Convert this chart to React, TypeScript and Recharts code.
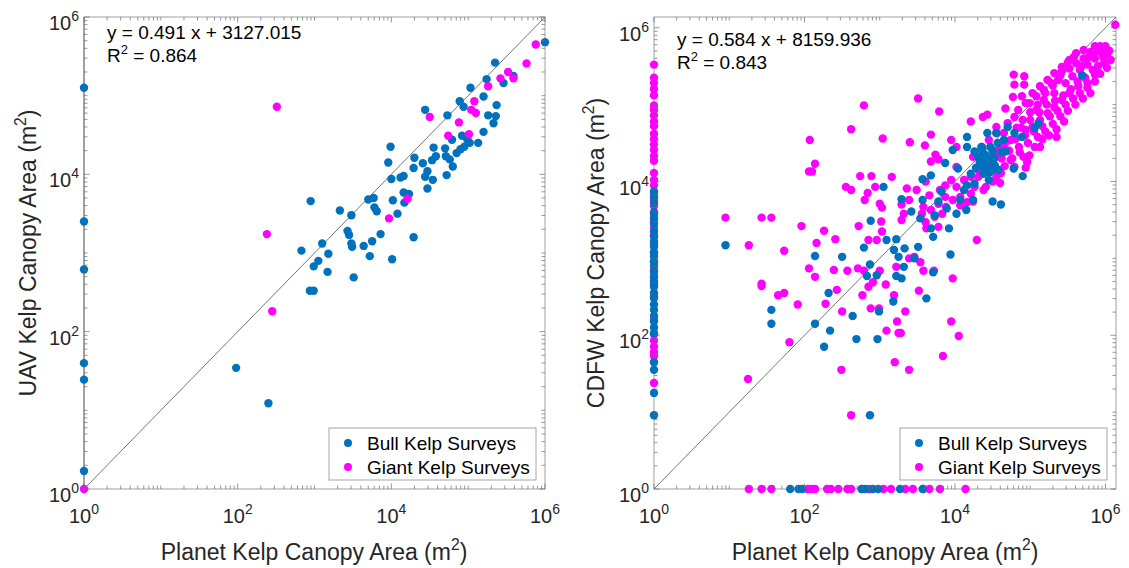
import React from 'react';
import { ScatterChart, Scatter, XAxis, YAxis } from 'recharts';

const FONT = '"Liberation Sans", Arial, Helvetica, sans-serif';
const TEXT = '#262626';
const BLUE = '#0072BD';
const MAGENTA = '#FF00FF';

type P = [number, number];

// ---------- Tick definitions (log axes) ----------
const decadeExponents = [0, 1, 2, 3, 4, 5, 6];
const labeledExponents = [0, 2, 4, 6];
const minorMultipliers = [2, 3, 4, 5, 6, 7, 8, 9];
const logTicks: number[] = decadeExponents.flatMap((e) =>
  e < 6 ? [Math.pow(10, e), ...minorMultipliers.map((m) => m * Math.pow(10, e))] : [Math.pow(10, e)]
);

// ---------- Left panel: UAV vs Planet (values given as log10 of area, m^2) ----------
const uavDomainMax = 1e6;
const uavBullLog: P[] = [
  [0, 5.1], [0, 3.4], [0, 2.79], [0, 1.6], [0, 1.39], [0, 0.23],
  [1.98, 1.54], [2.4, 1.09], [2.94, 2.52], [2.99, 2.52],
  [6.0, 5.68], [5.35, 5.42], [5.24, 5.21], [5.46, 5.16], [5.59, 5.25], [5.03, 5.1],
  [4.89, 4.93], [4.94, 4.86], [5.2, 4.99], [5.37, 4.88], [5.26, 4.75], [5.36, 4.74],
  [5.33, 4.65], [5.2, 4.54], [5.13, 4.4], [4.92, 4.49], [4.99, 4.44], [5.02, 4.4],
  [4.95, 4.35], [4.9, 4.32], [4.85, 4.27], [4.79, 4.44], [4.76, 4.19], [4.71, 4.23],
  [4.8, 4.1], [4.7, 4.33], [4.72, 3.99], [4.73, 4.75], [4.44, 4.82], [4.55, 4.34],
  [4.58, 4.23], [4.53, 4.18], [4.41, 4.14], [4.3, 4.21], [4.29, 4.08], [4.47, 4.04],
  [4.44, 3.97], [4.54, 3.93], [4.47, 3.82], [4.29, 3.2], [3.99, 4.35], [3.96, 4.15],
  [4.0, 3.94], [4.12, 3.96], [4.16, 3.98], [4.16, 3.77], [4.23, 3.75], [4.17, 3.64],
  [4.02, 3.67], [4.08, 3.5], [4.01, 2.92], [3.86, 3.24], [3.75, 3.15], [3.72, 2.96],
  [3.64, 3.09], [3.77, 3.7], [3.7, 3.68], [3.78, 3.58], [3.81, 3.53], [3.48, 3.48],
  [3.33, 3.54], [3.43, 3.28], [3.45, 3.23], [3.48, 3.12], [3.49, 3.08], [3.51, 2.69],
  [2.95, 3.66], [2.83, 3.03], [3.1, 3.12], [3.05, 2.9], [3.18, 2.99], [2.99, 2.83],
  [3.17, 2.76],
];
const uavGiantLog: P[] = [
  [0, 0], [2.51, 4.86], [2.38, 3.24], [2.45, 2.26], [3.97, 3.44], [4.21, 3.69],
  [4.5, 4.73], [4.74, 4.49], [4.88, 4.66], [5.01, 4.51], [5.04, 4.82], [5.1, 4.78],
  [5.08, 4.93], [5.26, 5.12], [5.42, 5.22], [5.52, 5.3], [5.59, 5.22], [5.76, 5.41],
  [5.88, 5.65],
];

// ---------- Right panel: CDFW vs Planet (log10 of area, m^2) ----------
const cdfwDomainMax = 1.38e6;
// points sitting on the x = 1 axis (log10 y values)
const cdfwGiantOnYAxis = [
  5.52, 5.35, 5.28, 5.2, 5.12, 4.99, 4.93, 4.86, 4.78, 4.72, 4.62, 4.55, 4.48, 4.41,
  4.33, 4.27, 4.11, 4.02, 3.95, 3.85, 3.76, 3.68, 3.57, 3.48, 3.4, 3.3, 3.18, 3.07,
  2.95, 2.85, 2.75, 2.66, 2.5, 2.2, 2.01, 1.93, 1.85, 1.78, 1.73, 1.38,
];
const cdfwBullOnYAxis = [
  3.87, 3.8, 3.72, 3.6, 3.52, 3.45, 3.35, 3.28, 3.22, 3.15, 3.08, 3.02, 2.96, 2.9,
  2.83, 2.77, 2.7, 2.63, 2.55, 2.48, 2.4, 2.33, 2.25, 2.18, 2.1, 2.03, 1.65, 1.55,
  1.25, 0.96,
];
// points sitting on the y = 1 axis (log10 x values)
const cdfwGiantOnXAxis = [
  1.26, 1.43, 1.56, 2.04, 2.09, 2.14, 2.3, 2.35, 2.45, 2.57, 2.62, 2.76, 2.86, 3.05,
  3.15, 3.34, 3.44, 3.58, 3.66, 3.8, 4.14,
];
const cdfwBullOnXAxis = [1.81, 1.92, 1.97, 2.76, 2.81, 2.91, 2.98, 3.27, 3.57];

const cdfwGiantLog: P[] = [
  [1.43, 2.64], [1.65, 2.52], [1.73, 2.55], [1.91, 2.4], [1.8, 1.91], [1.25, 1.43],
  [2.28, 2.41], [2.43, 2.59], [2.5, 2.31], [2.49, 1.55], [2.62, 0.96], [2.77, 2.52],
  [2.85, 2.63], [2.88, 2.35], [2.99, 2.35], [3.08, 2.66], [3.19, 2.52], [3.34, 2.31],
  [3.23, 2.18], [3.25, 2.03], [3.28, 2.03], [3.09, 2.06], [3.2, 1.65], [3.39, 1.55],
  [3.52, 2.58], [3.84, 1.73], [3.95, 2.18], [4.05, 1.99],
  [0.95, 3.53], [1.26, 3.17], [1.43, 3.53], [1.56, 3.53], [1.73, 3.1], [1.96, 3.42],
  [2.07, 4.54], [2.14, 4.23], [2.06, 4.13], [2.1, 4.13], [2.16, 3.2], [2.26, 3.36],
  [2.41, 3.25], [2.14, 2.76], [2.39, 2.85], [2.55, 3.93], [2.62, 3.89], [2.62, 4.68],
  [2.72, 3.42], [2.74, 4.07], [2.79, 4.99], [2.8, 3.76], [2.84, 3.85], [2.89, 4.07],
  [2.94, 3.93], [3.0, 3.71], [3.03, 3.66], [3.02, 3.48], [3.03, 3.35], [3.04, 4.56],
  [3.16, 4.06], [3.36, 3.91], [3.29, 3.7], [3.32, 3.58], [3.4, 4.51], [3.51, 5.08],
  [3.6, 4.47], [3.68, 4.61], [3.79, 4.91], [3.74, 4.35], [3.78, 4.29], [3.95, 4.54],
  [4.02, 4.45], [3.68, 4.26], [3.61, 4.0], [3.62, 3.39], [3.97, 2.74], [3.58, 2.84],
  [4.29, 3.24], [4.21, 4.78], [4.37, 4.84], [4.43, 4.87], [4.78, 5.39], [4.92, 5.37],
  [4.79, 5.26], [4.92, 5.26], [4.77, 5.1], [4.89, 5.11], [4.67, 4.95], [5.35, 4.58],
  [5.13, 4.45], [4.99, 4.34], [4.91, 4.32], [4.94, 4.18], [4.79, 4.19], [4.74, 4.28],
  [4.61, 4.11], [4.6, 3.98], [4.5, 4.0], [4.38, 3.89], [4.16, 3.73], [4.24, 3.74],
  [4.07, 3.69], [3.88, 3.67], [3.73, 3.54], [3.78, 3.41], [3.66, 3.82], [3.8, 3.89],
  [3.87, 3.95], [3.95, 4.02], [4.02, 3.93], [4.12, 4.02], [4.21, 4.06], [4.31, 4.15],
  [4.24, 4.32], [4.36, 4.45], [4.45, 4.54], [4.55, 4.63], [4.65, 4.63], [4.55, 4.71],
  [4.7, 4.76], [4.79, 4.84], [4.84, 4.93], [4.99, 5.02], [5.08, 5.11], [5.18, 5.19],
  [5.28, 5.28], [5.37, 5.32], [5.42, 5.43], [5.52, 5.47], [5.61, 5.54], [5.71, 5.6],
  [5.81, 5.69], [5.86, 5.76], [5.93, 5.76], [6.0, 5.76], [6.02, 5.65], [5.98, 5.54],
  [5.86, 5.39], [5.76, 5.28], [5.64, 5.24], [5.52, 5.15], [5.42, 5.06], [5.32, 4.97],
  [5.23, 4.89], [5.13, 4.8], [5.03, 4.71], [4.94, 4.67], [5.18, 5.06], [5.08, 4.93],
  [5.32, 5.15], [5.47, 5.28], [5.56, 5.37], [5.66, 5.45], [5.76, 5.52], [5.86, 5.6],
  [5.95, 5.67], [5.71, 5.71], [5.61, 5.67], [5.52, 5.58], [5.42, 5.49], [5.32, 5.41],
  [5.23, 5.32], [5.13, 5.24], [5.03, 5.15], [4.94, 5.02], [6.13, 6.04], [5.87, 5.4],
  [4.74, 4.54], [4.65, 4.45], [4.55, 4.37], [4.5, 4.24], [4.41, 4.15], [4.31, 4.06],
  [4.26, 3.93], [4.41, 3.93], [4.55, 4.06], [3.87, 3.8], [3.97, 3.76], [4.07, 3.8],
  [4.21, 3.84], [3.78, 3.71], [3.83, 3.58], [3.58, 3.67], [3.68, 3.63], [3.46, 3.02],
  [3.54, 2.95], [3.72, 2.84], [3.39, 3.0], [2.96, 3.24], [2.85, 3.24], [2.57, 2.84],
  [2.71, 2.87], [2.06, 2.87], [1.43, 2.67], [2.79, 2.84], [2.91, 2.69], [3.0, 2.84],
  [3.22, 2.89], [3.29, 3.5], [3.39, 3.76], [3.49, 3.89], [3.56, 3.58], [3.61, 3.47],
  [4.02, 4.19],
  // dense upper-right band
  [4.45, 4.3], [4.52, 4.4], [4.6, 4.45], [4.62, 4.3], [4.68, 4.52], [4.72, 4.4],
  [4.8, 4.55], [4.85, 4.45], [4.88, 4.7], [4.93, 4.6], [4.97, 4.5], [5.0, 4.8],
  [5.05, 4.65], [5.1, 4.58], [5.12, 4.9], [5.16, 4.72], [5.2, 4.65], [5.22, 5.0],
  [5.26, 4.85], [5.3, 4.75], [5.33, 5.05], [5.36, 4.92], [5.4, 4.85], [5.44, 5.12],
  [5.47, 5.0], [5.5, 4.92], [5.54, 5.2], [5.57, 5.08], [5.6, 5.0], [5.63, 5.3],
  [5.66, 5.15], [5.7, 5.08], [5.73, 5.35], [5.76, 5.22], [5.8, 5.15], [5.83, 5.45],
  [5.86, 5.3], [5.9, 5.5], [5.93, 5.4], [5.97, 5.62], [6.02, 5.48], [6.05, 5.7],
  [6.07, 5.58], [5.5, 5.55], [5.4, 5.38], [5.3, 5.25], [5.2, 5.15], [5.1, 5.0],
  [5.0, 4.9], [4.9, 4.8], [4.82, 4.7], [5.58, 5.62], [5.68, 5.5], [5.78, 5.62],
  [5.88, 5.7], [4.66, 4.2], [4.76, 4.3], [4.86, 4.38], [4.96, 4.25], [5.06, 4.45],
  [5.16, 4.55], [5.25, 4.6], [5.45, 4.78], [5.35, 4.68],
];
const cdfwBullLog: P[] = [
  [1.56, 2.33], [1.56, 2.15], [2.14, 2.15], [2.32, 2.55], [2.34, 2.06], [2.26, 1.85],
  [2.64, 2.25], [2.69, 1.95], [2.97, 1.95], [2.99, 2.31], [3.18, 2.44], [3.62, 2.48],
  [2.87, 0.96],
  [0.95, 3.17], [2.14, 3.03], [2.5, 3.02], [2.79, 3.14], [2.87, 2.92], [2.83, 2.77],
  [2.96, 2.78], [3.05, 3.93], [2.88, 3.49], [3.09, 3.24], [3.22, 3.25], [3.19, 3.11],
  [3.25, 3.02], [3.33, 3.13], [3.32, 2.89], [3.22, 2.77], [3.29, 2.74], [3.46, 3.0],
  [3.51, 3.15], [3.71, 2.82], [3.94, 3.05], [3.29, 3.77], [3.42, 3.61], [3.54, 3.52],
  [3.57, 3.76], [3.57, 4.03], [3.68, 4.08], [3.73, 3.56], [3.68, 3.39], [3.71, 3.28],
  [3.78, 3.74], [3.82, 3.87], [3.87, 4.24], [3.89, 3.65], [3.92, 3.39], [4.02, 3.58],
  [4.07, 3.76], [4.12, 3.89], [4.15, 3.63], [4.16, 3.95], [4.26, 3.97], [4.24, 3.76],
  [3.97, 4.41], [4.04, 4.17], [4.16, 4.58], [4.16, 4.45], [4.26, 4.39], [4.36, 4.41],
  [4.43, 4.63], [4.5, 4.39], [4.55, 4.63], [4.48, 4.28], [4.53, 4.21], [4.58, 4.15],
  [4.5, 4.15], [4.41, 4.28], [4.38, 4.19], [4.67, 4.39], [4.65, 4.54], [4.7, 4.71],
  [4.79, 4.63], [4.89, 4.58], [4.78, 4.17], [4.9, 4.07], [4.5, 3.74], [4.61, 3.7],
  [5.06, 4.7], [5.11, 4.76], [5.69, 5.38], [4.38, 4.1], [4.45, 4.02], [4.31, 4.32],
  [4.21, 4.1],
  [4.33, 4.25], [4.4, 4.35], [4.47, 4.45], [4.52, 4.3], [4.57, 4.5], [4.42, 4.2],
  [4.62, 4.38], [4.35, 4.45], [4.28, 4.18], [4.46, 4.12],
];

const toPoint = ([lx, ly]: P) => ({ x: Math.pow(10, lx), y: Math.pow(10, ly) });

const uavBullData = uavBullLog.map(toPoint);
const uavGiantData = uavGiantLog.map(toPoint);
const cdfwGiantData = [
  ...cdfwGiantOnYAxis.map((ly) => toPoint([0, ly])),
  ...cdfwGiantOnXAxis.map((lx) => toPoint([lx, 0])),
  ...cdfwGiantLog.map(toPoint),
];
const cdfwBullData = [
  ...cdfwBullOnYAxis.map((ly) => toPoint([0, ly])),
  ...cdfwBullOnXAxis.map((lx) => toPoint([lx, 0])),
  ...cdfwBullLog.map(toPoint),
];

// ---------- tick renderers ----------
const TICK_COLOR = '#6b6b6b';
const exponentOf = (v: number) => Math.log10(v);
const isDecade = (v: number) => Math.abs(exponentOf(v) - Math.round(exponentOf(v))) < 1e-6;
const labelOf = (v: number): number | null => {
  if (!isDecade(v)) return null;
  const e = Math.round(exponentOf(v));
  return labeledExponents.includes(e) ? e : null;
};
const tickLen = (v: number) => (labelOf(v) !== null ? 5.5 : 3.5);

const TickText = ({ x, y, anchor, e }: { x: number; y: number; anchor: 'middle' | 'end'; e: number }) => (
  <text x={x} y={y} textAnchor={anchor} fontFamily={FONT} fontSize={20} fill={TEXT}>
    10
    <tspan dy={-9} fontSize={14}>
      {e}
    </tspan>
  </text>
);

const BottomTick = (props: any) => {
  const { x, y, payload } = props;
  const v = payload.value;
  const e = labelOf(v);
  return (
    <g>
      <line x1={x} x2={x} y1={y} y2={y - tickLen(v)} stroke={TICK_COLOR} strokeWidth={0.7} />
      {e !== null && <TickText x={x} y={y + 34} anchor="middle" e={e} />}
    </g>
  );
};
const TopTick = (props: any) => {
  const { x, y, payload } = props;
  const v = payload.value;
  return <line x1={x} x2={x} y1={y} y2={y + tickLen(v)} stroke={TICK_COLOR} strokeWidth={0.7} />;
};
const LeftTick = (props: any) => {
  const { x, y, payload } = props;
  const v = payload.value;
  const e = labelOf(v);
  return (
    <g>
      <line x1={x} x2={x + tickLen(v)} y1={y} y2={y} stroke={TICK_COLOR} strokeWidth={0.7} />
      {e !== null && <TickText x={x - 5} y={y + 13} anchor="end" e={e} />}
    </g>
  );
};
const RightTick = (props: any) => {
  const { x, y, payload } = props;
  const v = payload.value;
  return <line x1={x} x2={x - tickLen(v)} y1={y} y2={y} stroke={TICK_COLOR} strokeWidth={0.7} />;
};

const dotShape = (color: string) => (props: any) =>
  props.cx == null ? <g /> : <circle cx={props.cx} cy={props.cy} r={4.2} fill={color} />;
const noShape = () => <g />;

type PanelProps = {
  width: number;
  plotLeft: number;
  plotRight: number;
  domainMax: number;
  bull: { x: number; y: number }[];
  giant: { x: number; y: number }[];
  bullOnTop: boolean;
  leftAxisColor: string;
};

const PLOT_TOP = 17;
const PLOT_BOTTOM = 489;
const HEIGHT = 568;
const LEFT_AXIS_W = 40;
const RIGHT_AXIS_W = 8;
const TOP_AXIS_H = 8;
const BOTTOM_AXIS_H = 40;

const Panel = ({ width, plotLeft, plotRight, domainMax, bull, giant, bullOnTop, leftAxisColor }: PanelProps) => {
  const ticks = logTicks.filter((t) => t <= domainMax);
  const diag = [
    { x: 1, y: 1 },
    { x: domainMax, y: domainMax },
  ];
  const boxColor = '#a0a0a0';
  const margin = {
    top: PLOT_TOP - TOP_AXIS_H,
    bottom: HEIGHT - PLOT_BOTTOM - BOTTOM_AXIS_H,
    left: plotLeft - LEFT_AXIS_W,
    right: width - plotRight - RIGHT_AXIS_W,
  };
  const series = [
    <Scatter
      key="giant"
      name="Giant Kelp Surveys"
      data={giant}
      xAxisId="b"
      yAxisId="l"
      fill={MAGENTA}
      shape={dotShape(MAGENTA)}
      isAnimationActive={false}
    />,
    <Scatter
      key="bull"
      name="Bull Kelp Surveys"
      data={bull}
      xAxisId="b"
      yAxisId="l"
      fill={BLUE}
      shape={dotShape(BLUE)}
      isAnimationActive={false}
    />,
  ];
  return (
    <ScatterChart width={width} height={HEIGHT} margin={margin}>
      <XAxis
        xAxisId="b"
        dataKey="x"
        type="number"
        scale="log"
        domain={[1, domainMax]}
        ticks={ticks}
        interval={0}
        height={BOTTOM_AXIS_H}
        tickSize={0}
        tickMargin={0}
        tickLine={false}
        axisLine={{ stroke: boxColor, strokeWidth: 1 }}
        tick={BottomTick}
      />
      <XAxis
        xAxisId="t"
        orientation="top"
        dataKey="x"
        type="number"
        scale="log"
        domain={[1, domainMax]}
        ticks={ticks}
        interval={0}
        height={TOP_AXIS_H}
        tickSize={0}
        tickMargin={0}
        tickLine={false}
        axisLine={{ stroke: boxColor, strokeWidth: 1 }}
        tick={TopTick}
      />
      <YAxis
        yAxisId="l"
        dataKey="y"
        type="number"
        scale="log"
        domain={[1, domainMax]}
        ticks={ticks}
        interval={0}
        width={LEFT_AXIS_W}
        tickSize={0}
        tickMargin={0}
        tickLine={false}
        axisLine={{ stroke: leftAxisColor, strokeWidth: 1 }}
        tick={LeftTick}
      />
      <YAxis
        yAxisId="r"
        orientation="right"
        dataKey="y"
        type="number"
        scale="log"
        domain={[1, domainMax]}
        ticks={ticks}
        interval={0}
        width={RIGHT_AXIS_W}
        tickSize={0}
        tickMargin={0}
        tickLine={false}
        axisLine={{ stroke: boxColor, strokeWidth: 1 }}
        tick={RightTick}
      />
      <Scatter
        data={diag}
        xAxisId="t"
        yAxisId="r"
        line={{ stroke: '#3a3a3a', strokeWidth: 0.7 }}
        shape={noShape}
        isAnimationActive={false}
        legendType="none"
      />
      {bullOnTop ? series : [series[1], series[0]]}
    </ScatterChart>
  );
};

// ---------- overlay text ----------
const Sup = ({ children, size }: { children: React.ReactNode; size: number }) => (
  <tspan dy={-size * 0.42} fontSize={size * 0.68}>
    {children}
  </tspan>
);

const AxisTitle = ({ x, y, rotate, text }: { x: number; y: number; rotate?: boolean; text: string }) => (
  <text
    transform={`translate(${x},${y})${rotate ? ' rotate(-90)' : ''}`}
    textAnchor="middle"
    fontFamily={FONT}
    fontSize={23}
    fill={TEXT}
  >
    {text} (m
    <Sup size={23}>2</Sup>
    <tspan dy={23 * 0.42}>)</tspan>
  </text>
);

const Equation = ({ x, y, eq, r2 }: { x: number; y: number; eq: string; r2: string }) => (
  <g fontFamily={FONT} fontSize={19} fill="#000">
    <text x={x} y={y}>
      {eq}
    </text>
    <text x={x} y={y + 23}>
      R<Sup size={19}>2</Sup>
      <tspan dy={19 * 0.42}> = {r2}</tspan>
    </text>
  </g>
);

const LegendBox = ({ x, y }: { x: number; y: number }) => (
  <g fontFamily={FONT} fontSize={19} fill="#000">
    <rect x={x} y={y} width={207} height={52} fill="#fff" stroke="#a6a6a6" strokeWidth={1} />
    <circle cx={x + 19} cy={y + 15} r={4} fill={BLUE} />
    <text x={x + 38} y={y + 21.5}>
      Bull Kelp Surveys
    </text>
    <circle cx={x + 19} cy={y + 39} r={4} fill={MAGENTA} />
    <text x={x + 38} y={y + 45.5}>
      Giant Kelp Surveys
    </text>
  </g>
);

export default function App() {
  return (
    <div style={{ position: 'absolute', left: 0, top: 0, width: 1129, height: 568, background: '#fff', overflow: 'hidden' }}>
      <div style={{ position: 'absolute', left: 0, top: 0 }}>
        <Panel
          width={570}
          plotLeft={84}
          plotRight={545}
          domainMax={uavDomainMax}
          bull={uavBullData}
          giant={uavGiantData}
          bullOnTop={false}
          leftAxisColor="#444"
        />
      </div>
      <div style={{ position: 'absolute', left: 570, top: 0 }}>
        <Panel
          width={559}
          plotLeft={84}
          plotRight={546}
          domainMax={cdfwDomainMax}
          bull={cdfwBullData}
          giant={cdfwGiantData}
          bullOnTop={true}
          leftAxisColor="#a0a0a0"
        />
      </div>
      <svg
        width={1129}
        height={568}
        style={{ position: 'absolute', left: 0, top: 0, pointerEvents: 'none' }}
      >
        <AxisTitle x={314} y={560} text="Planet Kelp Canopy Area" />
        <AxisTitle x={885} y={560} text="Planet Kelp Canopy Area" />
        <AxisTitle x={36} y={253} rotate text="UAV Kelp Canopy Area" />
        <AxisTitle x={604} y={253} rotate text="CDFW Kelp Canopy Area" />
        <Equation x={107} y={39} eq="y = 0.491 x + 3127.015" r2="0.864" />
        <Equation x={677} y={46} eq="y = 0.584 x + 8159.936" r2="0.843" />
        <LegendBox x={329} y={428} />
        <LegendBox x={900} y={428} />
      </svg>
    </div>
  );
}
